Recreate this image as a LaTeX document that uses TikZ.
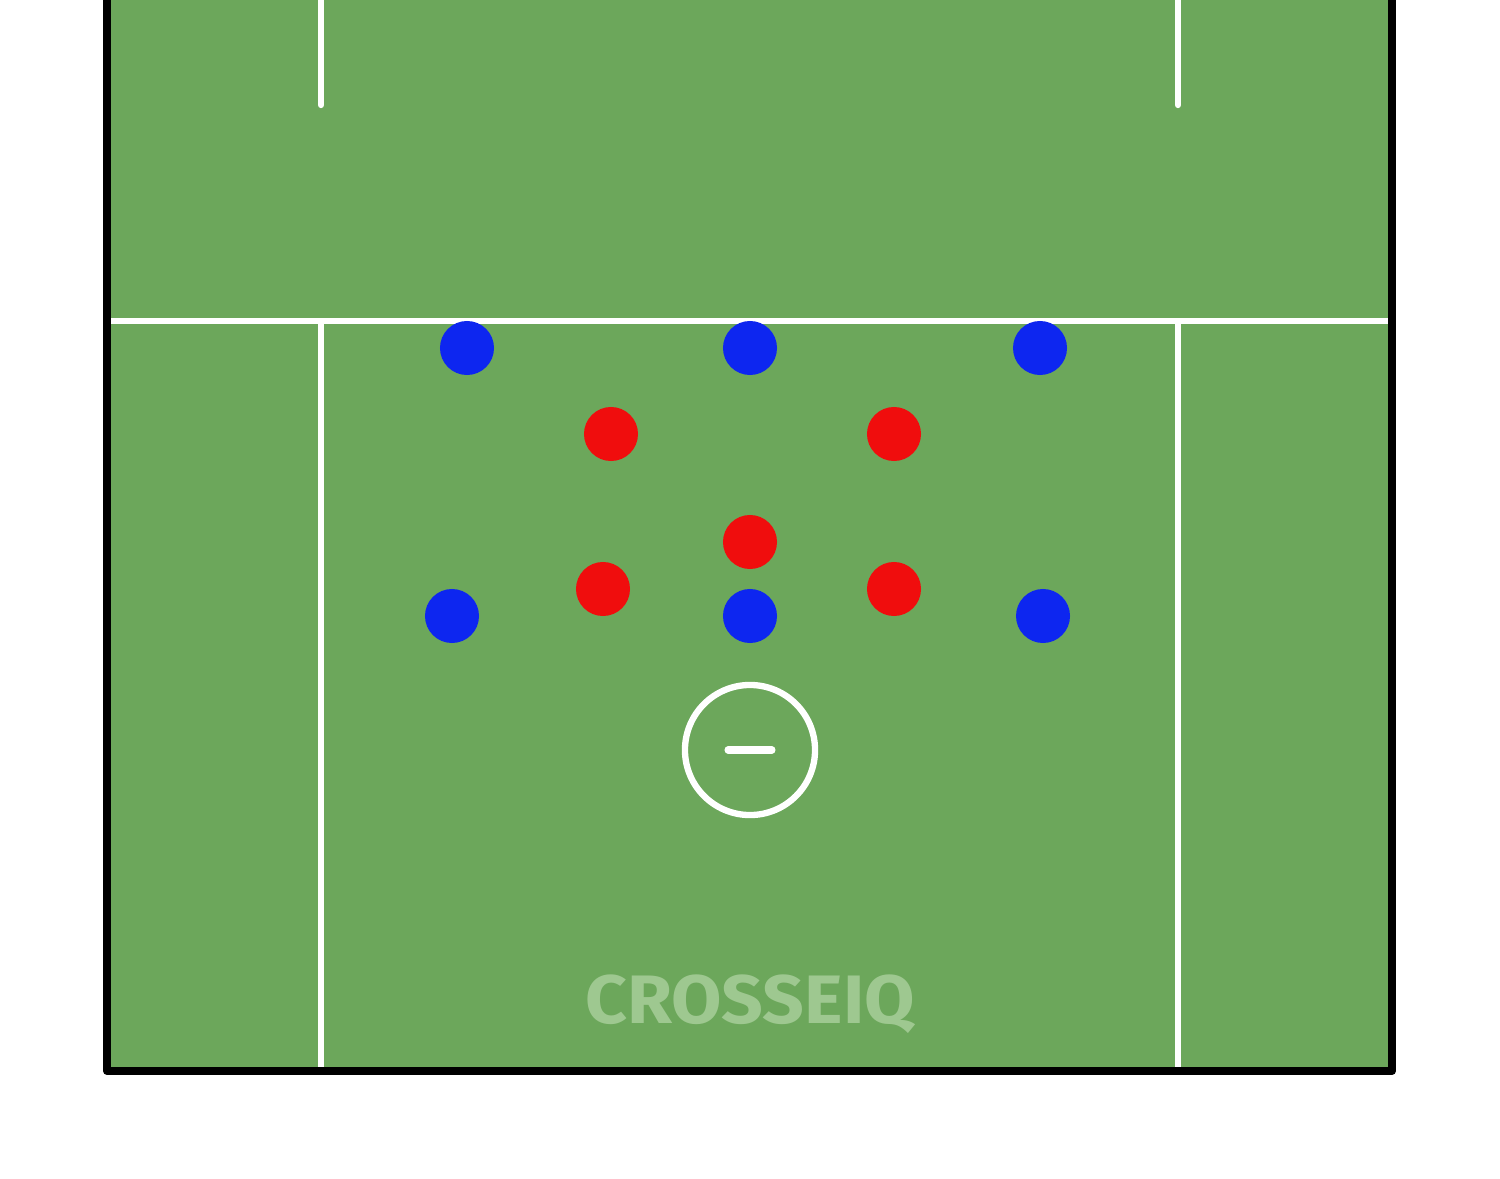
\documentclass[tikz,border=0pt]{standalone}
\usepackage{fontspec}
\newfontfamily\markfont{Fira Sans}
\definecolor{pitch}{RGB}{108,167,91}
\definecolor{blue}{RGB}{13,38,240}
\definecolor{red}{RGB}{240,13,13}
\definecolor{logogreen}{RGB}{158,200,144}
\tikzset{
    player/.style = {circle, inner sep=0pt, minimum size=0.54cm, fill=#1},
    chalk/.style = {white, line width=1.8pt},
}
\begin{document}
\begin{tikzpicture}[line cap=round,line join=round,x=0.01cm,y=-0.01cm]
\useasboundingbox (0,0) rectangle (1500,1179);
\fill [pitch] (107,0) rectangle (1392,1071);
\draw [chalk, line cap=butt] (108,321)-- (1390,321);
\draw [chalk, line cap=butt] (321,321)-- (321,1068);
\draw [chalk, line cap=butt] (1178,321)-- (1178,1068);
\draw [chalk] (321,0)-- (321,105);
\draw [chalk] (1178,0)-- (1178,105);
\draw [line width=2.3pt] (107,0)-- (107,1071)-- (1392,1071)-- (1392,0);
\node [circle, draw=white, line width=1.8pt, minimum size=1.3cm] (goal) at (750,750) {};
\draw [white, line width=2pt] (728,750)-- (772,750);
\node [player=blue] (b1) at (467,348) {};
\node [player=blue] (b2) at (750,348) {};
\node [player=blue] (b3) at (1040,348) {};
\node [player=blue] (b4) at (452,616) {};
\node [player=blue] (b5) at (750,616) {};
\node [player=blue] (b6) at (1043,616) {};
\node [player=red] (r1) at (611,434) {};
\node [player=red] (r2) at (894,434) {};
\node [player=red] (r3) at (750,542) {};
\node [player=red] (r4) at (603,589) {};
\node [player=red] (r5) at (894,589) {};
\node [logogreen, xscale=1.065, font=\markfont\bfseries\fontsize{19.5}{20}\selectfont] (logo) at (750,1004) {CROSSEIQ};
\end{tikzpicture}
\end{document}
